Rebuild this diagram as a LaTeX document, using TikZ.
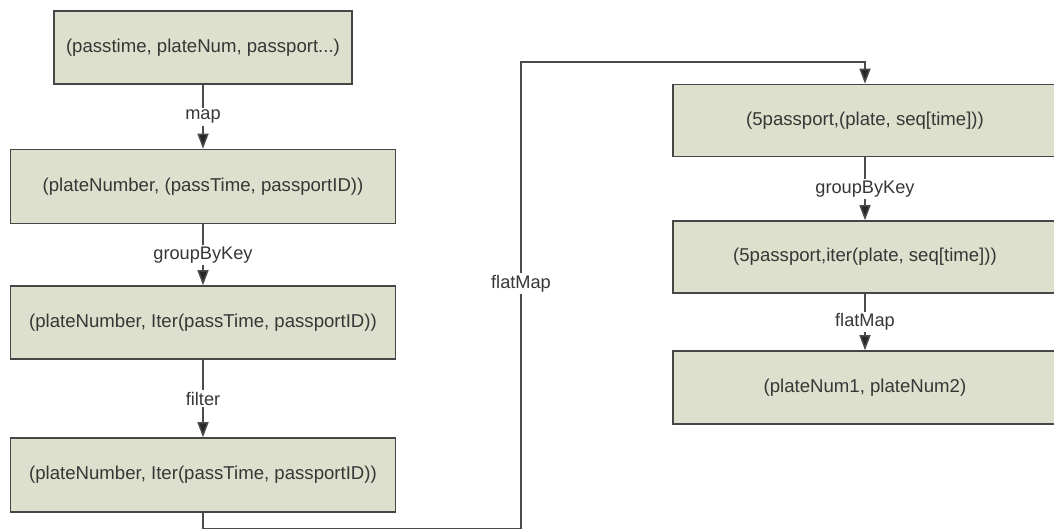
\documentclass[tikz,border=0pt]{standalone}
\usepackage{fontspec}
\setmainfont{Liberation Sans}
\usetikzlibrary{arrows.meta}
\definecolor{boxfill}{RGB}{221,224,204}
\definecolor{boxline}{RGB}{70,70,70}
\definecolor{txt}{RGB}{55,55,55}
\definecolor{edgecol}{RGB}{75,75,75}
\tikzset{
  stagebox/.style={draw=boxline, fill=boxfill, line width=1.6pt, inner sep=0pt, text=txt,
    font=\fontsize{18.6}{21}\selectfont},
  flow/.style={draw=edgecol, line width=1.5pt, -{Triangle[length=15pt,width=11pt,fill=black!85]}},
  lab/.style={fill=white, inner sep=2pt, text=txt, font=\fontsize{18.2}{21}\selectfont}
}
\begin{document}
\begin{tikzpicture}[x=1pt,y=-1pt]
\useasboundingbox (0,0) rectangle (1054,529);
\clip (0,0) rectangle (1054,529);
\node[stagebox, minimum width=298pt, minimum height=73pt] (b1) at (203,47.5) {(passtime, plateNum, passport...)};
\node[stagebox, minimum width=385pt, minimum height=74pt] (b2) at (203,186.5) {(plateNumber, (passTime, passportID))};
\node[stagebox, minimum width=385pt, minimum height=73pt] (b3) at (203,322.5) {(plateNumber, Iter(passTime, passportID))};
\node[stagebox, minimum width=385pt, minimum height=74pt] (b4) at (203,475) {(plateNumber, Iter(passTime, passportID))};
\node[stagebox, minimum width=384pt, minimum height=72pt] (r1) at (865,120.5) {(5passport,(plate, seq[time]))};
\node[stagebox, minimum width=384pt, minimum height=72pt] (r2) at (865,257) {(5passport,iter(plate, seq[time]))};
\node[stagebox, minimum width=384pt, minimum height=73pt] (r3) at (865,387.5) {(plateNum1, plateNum2)};
\coordinate (c1) at (203,528.6);
\coordinate (c2) at (521,528.6);
\coordinate (c3) at (521,62);
\draw[flow] (b1.south) -- node[lab] {map} (b2.north);
\draw[flow] (b2.south) -- node[lab] {groupByKey} (b3.north);
\draw[flow] (b3.south) -- node[lab] {filter} (b4.north);
\draw[flow] (r1.south) -- node[lab] {groupByKey} (r2.north);
\draw[flow] (r2.south) -- node[lab] {flatMap} (r3.north);
\draw[flow] (b4.south) -- (c1) -- (c2) -- node[lab, pos=0.525] {flatMap} (c3) -| (r1.north);
\end{tikzpicture}
\end{document}
